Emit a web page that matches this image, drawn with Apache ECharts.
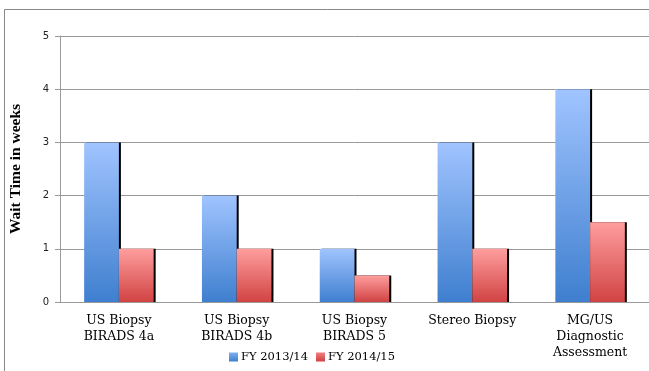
<!DOCTYPE html>
<html>
<head>
<meta charset="utf-8">
<script src="https://cdn.jsdelivr.net/npm/echarts@6/dist/echarts.min.js"></script>
<style>
  html, body { margin: 0; padding: 0; background: #fff; }
  #chart { width: 649px; height: 371px; }
</style>
</head>
<body>
<div id="chart"></div>
<script>
// Wait times per biopsy / assessment type
const categories = [
  'US Biopsy\nBIRADS 4a',
  'US Biopsy\nBIRADS 4b',
  'US Biopsy\nBIRADS 5',
  'Stereo Biopsy',
  'MG/US\nDiagnostic\nAssessment'
];
const fy2013 = [3, 2, 1, 3, 4];
const fy2014 = [1, 1, 0.5, 1, 1.5];
const seriesNames = ['FY 2013/14', 'FY 2014/15'];
const yTicks = { min: 0, max: 5, interval: 1 };

const serif = '"DejaVu Serif", "Liberation Serif", serif';

function grad(top, bottom) {
  return new echarts.graphic.LinearGradient(0, 0, 0, 1, [
    { offset: 0, color: top },
    { offset: 1, color: bottom }
  ]);
}

const barStyle = (top, bottom) => ({
  color: grad(top, bottom),
  shadowColor: '#000',
  shadowOffsetX: 2,
  shadowOffsetY: 0,
  shadowBlur: 0
});

const chart = echarts.init(document.getElementById('chart'), null, { renderer: 'canvas' });
chart.setOption({
  animation: false,
  backgroundColor: '#fff',
  graphic: [{
    type: 'rect',
    shape: { x: 4.5, y: 9.5, width: 700, height: 400 },
    style: { fill: 'none', stroke: '#888', lineWidth: 1 },
    silent: true,
    z: -1
  }],
  grid: { left: 60, right: 0, top: 36, bottom: 69, containLabel: false },
  legend: {
    data: [
      { name: seriesNames[0], itemStyle: { color: grad('#7FAEF0', '#3F7FCF') } },
      { name: seriesNames[1], itemStyle: { color: grad('#F08080', '#D04040') } }
    ],
    bottom: 3,
    left: 224,
    itemWidth: 9,
    itemHeight: 9,
    itemGap: 8,
    icon: 'rect',
    textStyle: { fontFamily: serif, fontSize: 11.5, color: '#000', padding: [0, 0, 0, -2] }
  },
  xAxis: {
    type: 'category',
    data: categories,
    axisLine: { lineStyle: { color: '#999' } },
    axisTick: { lineStyle: { color: '#999' }, length: 5, alignWithLabel: false },
    axisLabel: {
      fontFamily: serif,
      fontSize: 12.5,
      color: '#000',
      lineHeight: 16,
      margin: 11,
      interval: 0
    }
  },
  yAxis: {
    type: 'value',
    min: yTicks.min,
    max: yTicks.max,
    interval: yTicks.interval,
    name: 'Wait Time in weeks',
    nameLocation: 'middle',
    nameGap: 36,
    nameTextStyle: { fontFamily: '"Liberation Serif", serif', fontSize: 15.5, fontWeight: 'bold', color: '#000' },
    axisLine: { show: true, lineStyle: { color: '#999' } },
    axisTick: { show: true, length: 5, lineStyle: { color: '#999' } },
    axisLabel: { fontFamily: '"DejaVu Sans", sans-serif', fontSize: 10, color: '#222', margin: 11 },
    splitLine: { lineStyle: { color: '#999' } }
  },
  series: [
    {
      name: seriesNames[0],
      type: 'bar',
      data: fy2013,
      barGap: '0%',
      barCategoryGap: '41%',
      itemStyle: barStyle('#A0C4FF', '#3F7FCF')
    },
    {
      name: seriesNames[1],
      type: 'bar',
      data: fy2014,
      itemStyle: barStyle('#FF9E9E', '#D14343')
    }
  ]
});
</script>
</body>
</html>
